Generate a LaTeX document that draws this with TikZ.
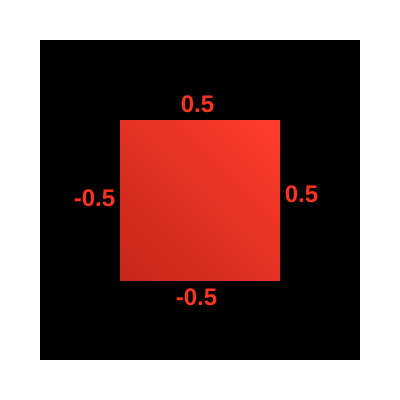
\documentclass[tikz,border=0pt]{standalone}
\usepackage{fontspec}
\setmainfont{Liberation Sans}
\usetikzlibrary{shadings}
\definecolor{lbl}{RGB}{255,52,34}
\definecolor{tr}{RGB}{255,62,42}
\definecolor{bl}{RGB}{198,38,26}
\definecolor{md}{RGB}{228,50,34}
\begin{document}
\begin{tikzpicture}[x=0.75pt,y=-0.75pt,
  lab/.style={text=lbl,font=\fontsize{18}{18}\selectfont\bfseries,inner sep=0pt,anchor=center}]
\useasboundingbox (0,0) rectangle (400,400);
\fill[white] (0,0) rectangle (400,400);
\fill[black] (40,40) rectangle (360,360);
\shade[upper right=tr,lower left=bl,upper left=md,lower right=md] (120,120) rectangle (280,280);
\node[lab] (top) at (197.5,104.5) {0.5};
\node[lab] (left) at (94.5,198.5) {-0.5};
\node[lab] (right) at (301.5,194.5) {0.5};
\node[lab] (bottom) at (196.5,297.5) {-0.5};
\end{tikzpicture}
\end{document}
